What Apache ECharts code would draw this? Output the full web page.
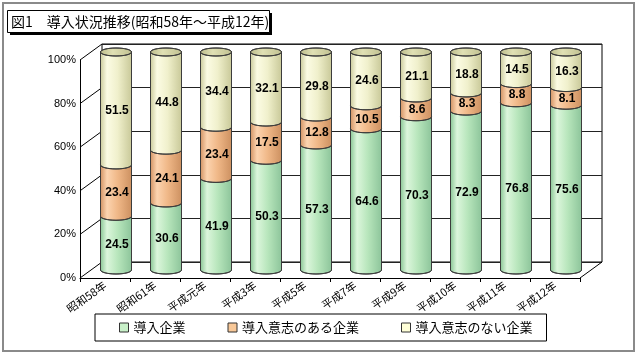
<!DOCTYPE html>
<html><head><meta charset="utf-8">
<script src="https://cdn.jsdelivr.net/npm/echarts@6/dist/echarts.min.js"></script>
<style>html,body{margin:0;padding:0;background:#fff}#c{width:640px;height:357px}</style>
</head><body><div id="c"></div>
<script>
const titleText = '図1　導入状況推移(昭和58年～平成12年)';
const categories = ['昭和58年','昭和61年','平成元年','平成3年','平成5年','平成7年','平成9年','平成10年','平成11年','平成12年'];
const seriesNames = ['導入企業','導入意志のある企業','導入意志のない企業'];
const adopted = [24.5,30.6,41.9,50.3,57.3,64.6,70.3,72.9,76.8,75.6];
const intending = [23.4,24.1,23.4,17.5,12.8,10.5,8.6,8.3,8.8,8.1];
const notIntending = [51.5,44.8,34.4,32.1,29.8,24.6,21.1,18.8,14.5,16.3];
const yTicks = [0,20,40,60,80,100];

const layers = [adopted, intending, notIntending];
const legendColors = ['#c8f0c8','#f8c898','#ffffd8'];
const bodyStops = [
  [[0,'#86c492'],[0.22,'#dcf6dc'],[0.55,'#b8e6bc'],[1,'#8cc49a']],
  [[0,'#d09060'],[0.22,'#fcd4b0'],[0.55,'#f0b888'],[1,'#cc9060']],
  [[0,'#c8c898'],[0.22,'#fcfce4'],[0.55,'#f0f0cc'],[1,'#c8c898']]
];

// build stacked (normalized to 100%) ranges
const stacked = layers.map(() => []);
for (let i = 0; i < categories.length; i++) {
  const tot = layers.reduce((s, l) => s + l[i], 0);
  let acc = 0;
  layers.forEach((l, k) => {
    const b = acc / tot * 100;
    acc += l[i];
    const t = acc / tot * 100;
    stacked[k].push([i, b, t, l[i]]);
  });
}

function ell(cx, y, rx, ry, full) {
  const k = 0.5523;
  let d = `M ${cx-rx} ${y} C ${cx-rx} ${y+k*ry} ${cx-k*rx} ${y+ry} ${cx} ${y+ry} C ${cx+k*rx} ${y+ry} ${cx+rx} ${y+k*ry} ${cx+rx} ${y}`;
  if (full) d += ` C ${cx+rx} ${y-k*ry} ${cx+k*rx} ${y-ry} ${cx} ${y-ry} C ${cx-k*rx} ${y-ry} ${cx-rx} ${y-k*ry} ${cx-rx} ${y} Z`;
  return d;
}

function makeRender(k) {
  const isTop = k === layers.length - 1;
  return function (params, api) {
    const i = api.value(0), b = api.value(1), t = api.value(2), raw = api.value(3);
    const pb = api.coord([i, b]), pt = api.coord([i, t]);
    const w = api.size([1, 0])[0] * 0.62;
    const rx = w / 2, ry = 4;
    const cx = pb[0], yb = pb[1], yt = pt[1];
    const k2 = 0.5523;
    const d = `M ${cx-rx} ${yt} L ${cx-rx} ${yb} C ${cx-rx} ${yb+k2*ry} ${cx-k2*rx} ${yb+ry} ${cx} ${yb+ry} C ${cx+k2*rx} ${yb+ry} ${cx+rx} ${yb+k2*ry} ${cx+rx} ${yb} L ${cx+rx} ${yt} Z`;
    const children = [{
      type: 'path',
      shape: { pathData: d },
      style: {
        fill: new echarts.graphic.LinearGradient(0, 0, 1, 0, bodyStops[k].map(s => ({ offset: s[0], color: s[1] }))),
        stroke: '#3c3c3c', lineWidth: 1
      }
    }];
    if (isTop) {
      children.push({
        type: 'path', shape: { pathData: ell(cx, yt, rx, ry, true) },
        style: { fill: new echarts.graphic.LinearGradient(0, 0, 1, 0, [{offset:0,color:'#bcbc8c'},{offset:0.4,color:'#e0e0b4'},{offset:1,color:'#c0c090'}]), stroke: '#3c3c3c', lineWidth: 1 }
      });
    }
    children.push({
      type: 'text',
      style: {
        text: raw.toFixed(1), x: cx + 1, y: (yt + yb) / 2 + 2,
        align: 'center', verticalAlign: 'middle', textAlign: 'center', textVerticalAlign: 'middle',
        font: 'bold 12px "Liberation Sans", Arial, sans-serif', fill: '#000'
      }
    });
    return { type: 'group', children };
  };
}

const chart = echarts.init(document.getElementById('c'), null, { renderer: 'canvas' });
const jp = '"Noto Sans CJK JP", sans-serif';

const option = {
  animation: false,
  backgroundColor: '#fff',
  grid: [
    { left: 80, right: 60, top: 60, bottom: 79 },                          // front
    { left: 102, right: 38, top: 44, bottom: 95, show: true, borderColor: '#000', borderWidth: 1, backgroundColor: '#fff' }, // back wall
    { left: 91, right: 49, top: 52, bottom: 87 }                           // bars (mid-depth)
  ],
  xAxis: [
    { gridIndex: 0, type: 'category', data: categories,
      axisLine: { lineStyle: { color: '#000' } },
      axisTick: { show: true, length: 4, lineStyle: { color: '#000' } },
      axisLabel: { rotate: 35, fontSize: 11, color: '#000', fontFamily: jp, margin: 6, interval: 0 } },
    { gridIndex: 1, type: 'category', data: categories, show: false },
    { gridIndex: 2, type: 'category', data: categories, show: false }
  ],
  yAxis: [
    { gridIndex: 0, type: 'value', min: 0, max: 100, interval: 20,
      axisLine: { show: true, lineStyle: { color: '#000' } }, axisTick: { show: false },
      splitLine: { show: false },
      axisLabel: { formatter: '{value}%', fontSize: 11, color: '#000', fontFamily: '"Liberation Sans", Arial, sans-serif', margin: 4 } },
    { gridIndex: 1, type: 'value', min: 0, max: 100, interval: 20,
      axisLine: { show: false }, axisTick: { show: false }, axisLabel: { show: false },
      splitLine: { show: true, lineStyle: { color: '#222', width: 1 } } },
    { gridIndex: 2, type: 'value', min: 0, max: 100, show: false, splitLine: { show: false } }
  ],
  legend: {
    left: 95, top: 314, orient: 'horizontal',
    data: seriesNames,
    icon: 'rect', itemWidth: 9, itemHeight: 9, itemGap: 42,
    borderColor: '#000', borderWidth: 1, padding: [7, 14, 7, 24],
    itemStyle: { borderColor: '#333', borderWidth: 1 },
    textStyle: { fontSize: 13, color: '#000', fontFamily: jp, padding: [0, 0, 0, 0] },
    selectedMode: false
  },
  series: layers.map((l, k) => ({
    name: seriesNames[k], type: 'custom', xAxisIndex: 2, yAxisIndex: 2,
    color: legendColors[k], itemStyle: { color: legendColors[k] },
    renderItem: makeRender(k), data: stacked[k], z: 5 + k,
    encode: { x: 0, y: [1, 2] }
  }))
};
chart.setOption(option);

// 3D frame decorations computed from the front axis scale
const DX = 22, DY = -16;
const graphics = [];
const xL = chart.getModel().getComponent('grid', 0).coordinateSystem.getRect();
const x0 = xL.x, x1 = xL.x + xL.width;
yTicks.forEach(v => {
  const y = chart.convertToPixel({ yAxisIndex: 0 }, v);
  graphics.push({ type: 'line', shape: { x1: x0, y1: y, x2: x0 + DX, y2: y + DY }, style: { stroke: '#000', lineWidth: 1 }, z: 1 });
});
const yBot = chart.convertToPixel({ yAxisIndex: 0 }, 0);
graphics.push({ type: 'line', shape: { x1: x1, y1: yBot, x2: x1 + DX, y2: yBot + DY }, style: { stroke: '#000', lineWidth: 1 }, z: 1 });
// outer frame
graphics.push({ type: 'rect', shape: { x: 3, y: 3, width: 631, height: 348 }, style: { fill: null, stroke: '#8a8a8a', lineWidth: 2 }, z: 0 });
// title box with shadow
graphics.push({ type: 'rect', shape: { x: 10, y: 13, width: 262, height: 22 }, style: { fill: '#000' }, z: 10 });
graphics.push({ type: 'rect', shape: { x: 7.5, y: 10.5, width: 262, height: 22 }, style: { fill: '#fff', stroke: '#000', lineWidth: 1 }, z: 11 });
graphics.push({ type: 'text', x: 11, y: 21.5, style: { text: titleText, font: '14px "Noto Sans CJK JP", sans-serif', fill: '#000', verticalAlign: 'middle', textVerticalAlign: 'middle' }, z: 12 });
chart.setOption({ graphic: graphics });
</script></body></html>
